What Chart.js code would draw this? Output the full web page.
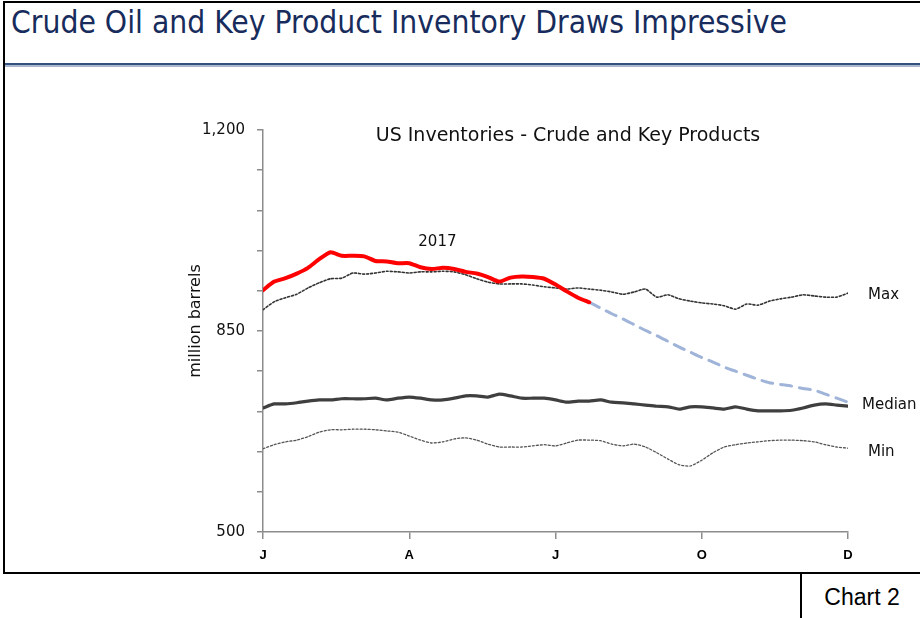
<!DOCTYPE html>
<html>
<head>
<meta charset="utf-8">
<title>US Inventories - Crude and Key Products</title>
<script src="https://cdn.jsdelivr.net/npm/chart.js@4.4.1/dist/chart.umd.min.js"></script>
<style>
  html, body { margin: 0; padding: 0; background: #fff; }
  #page { position: relative; width: 920px; height: 618px; overflow: hidden; }
  #frame {
    position: absolute; left: 3px; top: 1px; width: 930px; height: 569px;
    border-left: 2px solid #000; border-top: 2px solid #000; border-bottom: 2px solid #000;
  }
  #headline {
    position: absolute; left: 11px; top: 4px;
    font-family: "DejaVu Sans Condensed", "DejaVu Sans", sans-serif; font-stretch: condensed;
    font-size: 31.5px; color: #172C5C; white-space: nowrap;
  }
  #rule { position: absolute; left: 5px; top: 63px; width: 915px; height: 2px; background: #34507F; border-bottom: 2px solid #A9B8CF; }
  #tag {
    position: absolute; left: 800px; top: 572px; width: 120px; height: 46px;
    border-left: 2px solid #000; font-family: "Liberation Sans", Arial, sans-serif;
    font-size: 23px; color: #000; line-height: 50px; text-align: center;
  }
  #wrap { position: absolute; left: 0; top: 0; width: 920px; height: 618px; }
</style>
</head>
<body>
<div id="page">
  <div id="frame"></div>
  <div id="headline">Crude Oil and Key Product Inventory Draws Impressive</div>
  <div id="rule"></div>
  <div id="tag">Chart 2</div>
  <div id="wrap"><canvas id="inv-chart" width="920" height="618"></canvas></div>
</div>
<script>
// weeks of the year, 0 = start of Jan, 52 = Dec
const weeks = Array.from({ length: 53 }, (_, i) => i);
const monthTicks = ['J', 'A', 'J', 'O', 'D'];

// million barrels
const y2017 = [921, 936, 942, 950, 960, 975, 987, 981, 981, 980, 972, 971, 968, 968, 961, 958, 960, 958,
  953, 950, 944, 936, 943, 945, 944, 941, 931, 919, 908, 900];
const projected = [null, null, null, null, null, null, null, null, null, null, null, null, null, null, null,
  null, null, null, null, null, null, null, null, null, null, null, null, null, null,
  900, 890, 880, 871, 861, 851, 842, 832, 822, 813, 804, 796, 787, 780, 773, 766, 760, 757, 754, 750, 747,
  740, 733, 726];
const maxInv = [887, 901, 908, 914, 925, 934, 941, 942, 951, 949, 951, 954, 953, 951, 953, 953, 954, 953,
  948, 941, 935, 932, 932, 932, 930, 927, 925, 923, 925, 923, 921, 918, 914, 918, 923, 909, 913, 906, 902,
  899, 897, 894, 888, 897, 895, 902, 906, 909, 913, 911, 909, 909, 916];
const medianInv = [716, 723, 723, 725, 728, 730, 730, 732, 732, 732, 733, 730, 733, 735, 733, 730, 730,
  733, 737, 737, 735, 740, 737, 733, 733, 733, 730, 726, 728, 728, 730, 726, 725, 723, 721, 719, 718, 714,
  718, 718, 716, 714, 718, 714, 711, 711, 711, 712, 716, 721, 723, 721, 719];
const minInv = [645, 652, 657, 660, 666, 674, 678, 678, 679, 679, 678, 676, 674, 667, 660, 655, 657, 662,
  664, 660, 653, 648, 648, 648, 650, 652, 650, 655, 660, 660, 659, 653, 650, 653, 648, 638, 627, 617, 615,
  625, 638, 648, 652, 655, 657, 659, 660, 660, 659, 657, 652, 648, 646];

const shownTicks = [500, 850, 1200];
const axisGrey = '#8c8c8c';
const plotFont = '"DejaVu Sans", Verdana, sans-serif';

// text drawn inside the plot: sub title, axis name and series names
const notes = {
  id: 'notes',
  afterDatasetsDraw(chart) {
    const { ctx, chartArea } = chart;
    const x = chart.scales.x, y = chart.scales.y;
    const last = weeks.length - 1;
    ctx.save();
    ctx.fillStyle = '#111';
    ctx.textBaseline = 'middle';
    ctx.font = '19px ' + plotFont;
    ctx.textAlign = 'center';
    ctx.fillText('US Inventories - Crude and Key Products', chartArea.left + 305, chartArea.top + 6);
    ctx.font = '15px ' + plotFont;
    ctx.fillText('2017', x.getPixelForValue(15.5), y.getPixelForValue(1005));
    ctx.textAlign = 'left';
    ctx.fillText('Max', x.getPixelForValue(last) + 20, y.getPixelForValue(maxInv[last]) + 2);
    ctx.fillText('Median', x.getPixelForValue(last) + 14, y.getPixelForValue(medianInv[last]) - 1);
    ctx.fillText('Min', x.getPixelForValue(last) + 20, y.getPixelForValue(minInv[last]) + 4);
    // axis name, a little above the middle as in the source
    ctx.translate(chartArea.left - 67, (chartArea.top + chartArea.bottom) / 2 - 10);
    ctx.rotate(-Math.PI / 2);
    ctx.textAlign = 'center';
    ctx.font = '16px ' + plotFont;
    ctx.fillText('million barrels', 0, 0);
    ctx.restore();
  }
};

const config = {
  type: 'line',
  data: {
    labels: weeks,
    datasets: [
      { label: '2017', data: y2017, borderColor: '#ff0000', borderWidth: 4 },
      { label: 'Projection', data: projected, borderColor: '#9fb4d8', borderWidth: 3, borderDash: [11, 8] },
      { label: 'Median', data: medianInv, borderColor: '#3f3f3f', borderWidth: 3.2 },
      { label: 'Max', data: maxInv, borderColor: '#333', borderWidth: 1.6, borderDash: [2, 2] },
      { label: 'Min', data: minInv, borderColor: '#555', borderWidth: 1.3, borderDash: [2, 2] }
    ]
  },
  options: {
    responsive: false,
    animation: false,
    events: [],
    layout: { padding: { left: 180, top: 130, right: 72, bottom: 56 } },
    elements: {
      point: { radius: 0 },
      line: { tension: 0.2, fill: false, borderCapStyle: 'round', borderJoinStyle: 'round' }
    },
    plugins: { legend: { display: false }, tooltip: { enabled: false } },
    scales: {
      x: {
        type: 'linear',
        min: 0,
        max: 52,
        afterFit(scale) { scale.height = 30; },
        border: { display: true, color: axisGrey, width: 1.5 },
        grid: { display: true, drawOnChartArea: false, color: axisGrey, tickLength: 7, lineWidth: 1.5 },
        ticks: {
          stepSize: 13,
          autoSkip: false,
          maxRotation: 0,
          padding: 9,
          color: '#000',
          font: { family: '"Liberation Sans", Arial, sans-serif', size: 13, weight: 'bold' },
          callback: (v) => monthTicks[v / 13] || ''
        }
      },
      y: {
        min: 500,
        max: 1200,
        afterFit(scale) { scale.width = 83; },
        border: { display: true, color: axisGrey, width: 1.5 },
        grid: { display: true, drawOnChartArea: false, color: axisGrey, tickLength: 6, lineWidth: 1.5 },
        ticks: {
          stepSize: 70,
          autoSkip: false,
          padding: 12,
          color: '#111',
          font: { family: plotFont, size: 15 },
          callback: (v) => shownTicks.includes(v) ? v.toLocaleString('en-US') : ''
        }
      }
    }
  },
  plugins: [notes]
};

const invChart = new Chart(document.getElementById('inv-chart').getContext('2d'), config);
</script>
</body>
</html>
